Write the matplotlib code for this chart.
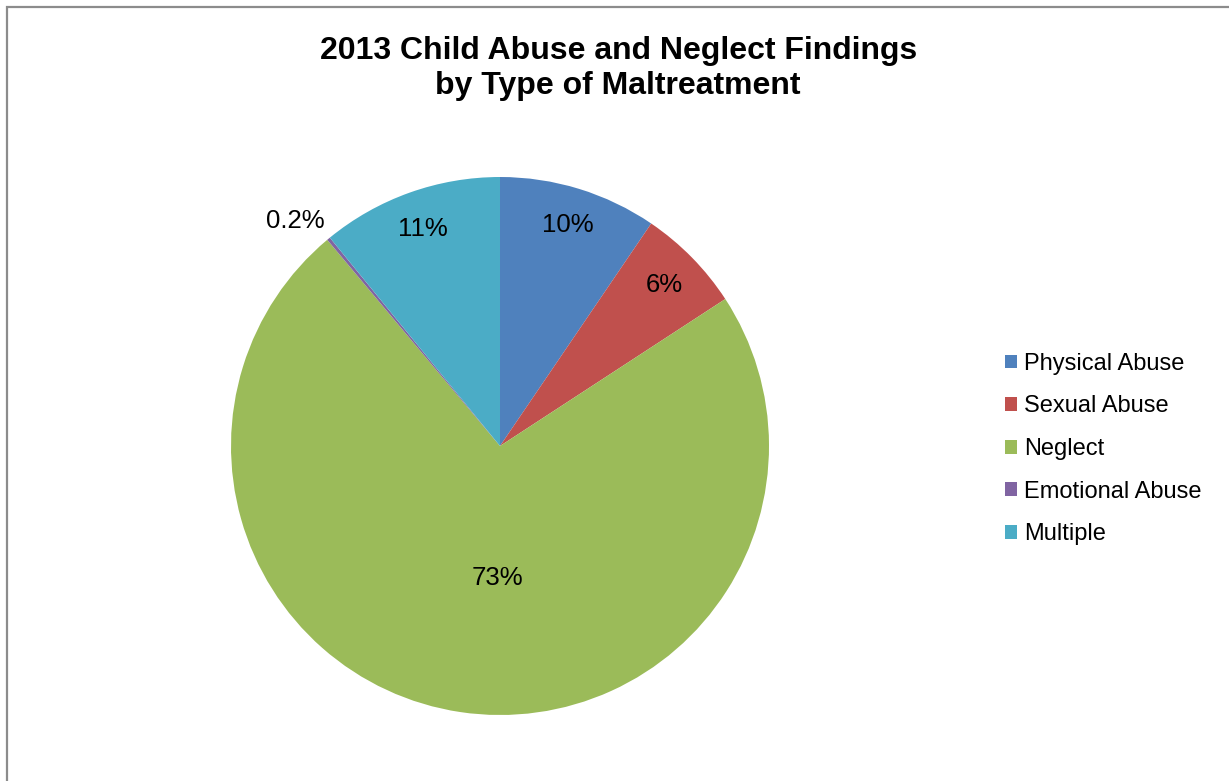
import matplotlib
matplotlib.use("Agg")
import matplotlib.pyplot as plt
import numpy as np
from matplotlib.patches import Rectangle

plt.rcParams['font.family'] = ['Liberation Sans', 'DejaVu Sans']

categories = ['Physical Abuse', 'Sexual Abuse', 'Neglect', 'Emotional Abuse', 'Multiple']
shares = [9.5, 6.3, 73.1, 0.2, 10.9]
pct_labels = ['10%', '6%', '73%', '0.2%', '11%']
colors = ['#4F81BD', '#C0504D', '#9BBB59', '#8064A2', '#4BACC6']

# label placement (fraction of radius) and optional angle override
label_dist = [0.86, 0.855, 0.49, 1.13, 0.855]
label_angle = [None, None, -91, 132.3, None]

fig = plt.figure(figsize=(12.29, 7.81), dpi=100)

# outer chart border (cropped on right/bottom)
fig.patches.append(Rectangle((7 / 1229, -0.1), 1.2, 1.1 - 7 / 781,
                             transform=fig.transFigure, fill=False,
                             edgecolor='#8c8c8c', linewidth=1.6, zorder=0))

ax = fig.add_axes([231 / 1229, 66 / 781, 538 / 1229, 538 / 781])
wedges, _ = ax.pie(shares, colors=colors, startangle=90, counterclock=False,
                   radius=1.0, wedgeprops=dict(linewidth=0))
ax.set_xlim(-1, 1)
ax.set_ylim(-1, 1)
ax.set_aspect('equal')
ax.axis('off')

for w, txt, d, ang in zip(wedges, pct_labels, label_dist, label_angle):
    if ang is None:
        ang = (w.theta1 + w.theta2) / 2
    a = np.deg2rad(ang)
    ax.text(d * np.cos(a), d * np.sin(a), txt, ha='center', va='center',
            fontsize=18.5, color='black', clip_on=False)

fig.text(0.503, 1 - 68.5 / 781, '2013 Child Abuse and Neglect Findings\nby Type of Maltreatment',
         ha='center', va='center', fontsize=23, fontweight='bold', linespacing=1.22)

leg = fig.legend(wedges, categories, loc='center left',
                 bbox_to_anchor=(1005 / 1229, 1 - 449 / 781), frameon=False,
                 borderpad=0, borderaxespad=0,
                 fontsize=17, handlelength=0.52, handleheight=0.52,
                 handletextpad=0.27, labelspacing=0.87)

fig.savefig('out.png', dpi=100)
